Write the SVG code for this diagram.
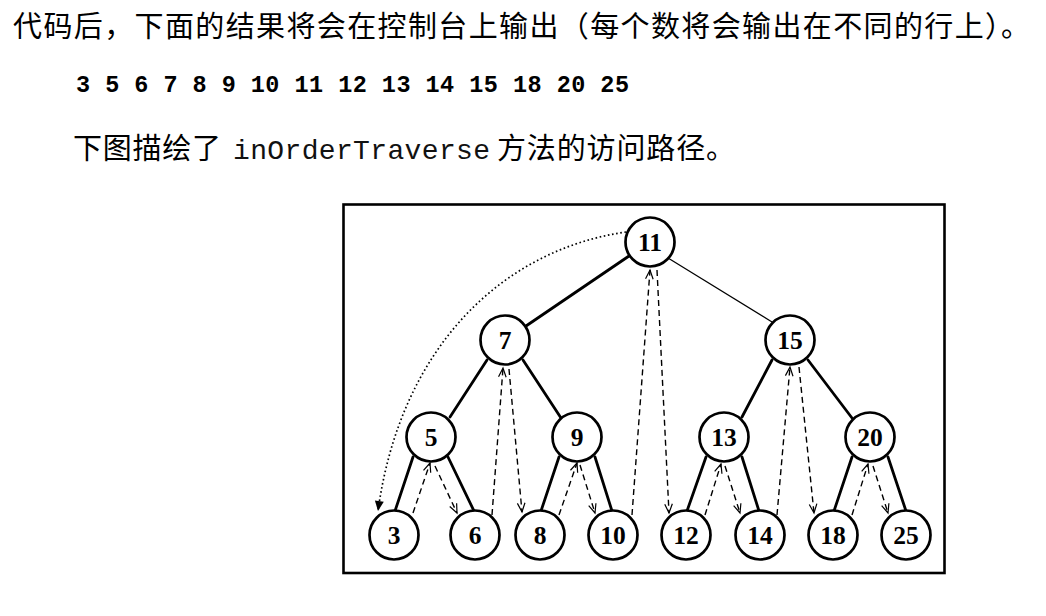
<svg xmlns="http://www.w3.org/2000/svg" width="1046" height="616" viewBox="0 0 1046 616">
<style>
.cn{font-family:"Noto Sans CJK SC","Noto Sans",sans-serif;font-size:29px;fill:#000}
.mono{font-family:"Liberation Mono","Courier New",monospace;font-size:28px;fill:#111}
.out{font-family:"Liberation Mono","DejaVu Sans Mono",monospace;font-size:23.5px;font-weight:bold;fill:#000}
.node circle{fill:#fff;stroke:#000;stroke-width:2.7}
.node text{font-family:"Liberation Serif","Times New Roman",serif;font-size:25.5px;font-weight:bold;text-anchor:middle;fill:#000}
.edge{stroke:#000;stroke-width:2.8;fill:none;stroke-linecap:round}
.thin{stroke:#000;stroke-width:1.3;fill:none}
.trav{stroke:#000;stroke-width:1.4;fill:none;stroke-dasharray:6 4;marker-end:url(#open)}
.dot{stroke:#000;stroke-width:1.7;fill:none;stroke-dasharray:1.6 2.6;marker-end:url(#solid)}
</style>
<defs>
<marker id="open" viewBox="-10 -6 12 12" refX="0" refY="0" markerWidth="12" markerHeight="12" markerUnits="userSpaceOnUse" orient="auto">
<path d="M-9,-3.8 L0,0 L-9,3.8" fill="none" stroke="#000" stroke-width="1.2"/>
</marker>
<marker id="solid" viewBox="-12 -7 14 14" refX="0" refY="0" markerWidth="14" markerHeight="14" markerUnits="userSpaceOnUse" orient="auto">
<path d="M-10,-4.5 L0,0 L-10,4.5 Z" fill="#000"/>
</marker>
</defs>
<rect width="1046" height="616" fill="#fff"/>

<g id="texts">
<text class="cn" x="13" y="36.5" textLength="1017" lengthAdjust="spacing">代码后，下面的结果将会在控制台上输出（每个数将会输出在不同的行上）。</text>
<text class="out" x="76" y="91.5" textLength="553" lengthAdjust="spacing">3 5 6 7 8 9 10 11 12 13 14 15 18 20 25</text>
<text class="cn" x="73" y="159" textLength="148" lengthAdjust="spacing">下图描绘了</text>
<text class="mono" x="233" y="158.5" textLength="257" lengthAdjust="spacing">inOrderTraverse</text>
<text class="cn" x="497" y="159" textLength="238" lengthAdjust="spacing">方法的访问路径。</text>
</g>

<rect id="frame" x="343.5" y="204.5" width="601" height="368.5" fill="none" stroke="#000" stroke-width="2.6"/>

<g id="edges">
<line class="edge" x1="629" y1="256" x2="526" y2="326"/>
<line class="thin" x1="668" y1="258" x2="772" y2="322"/>
<line class="edge" x1="487" y1="360" x2="450" y2="417"/>
<line class="edge" x1="523" y1="360" x2="561" y2="418"/>
<line class="edge" x1="772" y1="360" x2="742" y2="417"/>
<line class="edge" x1="808" y1="360" x2="852" y2="418"/>
<line class="edge" x1="413" y1="457" x2="395" y2="511"/>
<line class="edge" x1="448" y1="457" x2="474" y2="511"/>
<line class="edge" x1="559" y1="457" x2="541" y2="511"/>
<line class="edge" x1="595" y1="457" x2="612" y2="511"/>
<line class="edge" x1="706" y1="457" x2="687" y2="511"/>
<line class="edge" x1="742" y1="457" x2="759" y2="511"/>
<line class="edge" x1="852" y1="457" x2="834" y2="511"/>
<line class="edge" x1="888" y1="457" x2="906" y2="511"/>
</g>

<g id="n11" class="node"><circle cx="650" cy="242" r="24.5"/><text x="650" y="250.8">11</text></g>
<g id="n7" class="node"><circle cx="505" cy="340" r="24.5"/><text x="505" y="348.8">7</text></g>
<g id="n15" class="node"><circle cx="790" cy="340" r="24.5"/><text x="790" y="348.8">15</text></g>
<g id="n5" class="node"><circle cx="431" cy="437" r="24.5"/><text x="431" y="445.8">5</text></g>
<g id="n9" class="node"><circle cx="577" cy="437" r="24.5"/><text x="577" y="445.8">9</text></g>
<g id="n13" class="node"><circle cx="724" cy="437" r="24.5"/><text x="724" y="445.8">13</text></g>
<g id="n20" class="node"><circle cx="870" cy="437" r="24.5"/><text x="870" y="445.8">20</text></g>
<g id="n3" class="node"><circle cx="394" cy="535" r="24.5"/><text x="394" y="543.8">3</text></g>
<g id="n6" class="node"><circle cx="475" cy="535" r="24.5"/><text x="475" y="543.8">6</text></g>
<g id="n8" class="node"><circle cx="540" cy="535" r="24.5"/><text x="540" y="543.8">8</text></g>
<g id="n10" class="node"><circle cx="613" cy="535" r="24.5"/><text x="613" y="543.8">10</text></g>
<g id="n12" class="node"><circle cx="686" cy="535" r="24.5"/><text x="686" y="543.8">12</text></g>
<g id="n14" class="node"><circle cx="760" cy="535" r="24.5"/><text x="760" y="543.8">14</text></g>
<g id="n18" class="node"><circle cx="833" cy="535" r="24.5"/><text x="833" y="543.8">18</text></g>
<g id="n25" class="node"><circle cx="906" cy="535" r="24.5"/><text x="906" y="543.8">25</text></g>

<g id="traversal">
<path class="dot" d="M626,232 C500,250 400,350 378,511"/>
<line class="trav" x1="413" y1="513" x2="430" y2="463"/>
<line class="trav" x1="435" y1="466" x2="457" y2="513"/>
<line class="trav" x1="492" y1="515" x2="503" y2="368"/>
<line class="trav" x1="509" y1="369" x2="522" y2="512"/>
<line class="trav" x1="559" y1="515" x2="577" y2="463"/>
<line class="trav" x1="580" y1="465" x2="595" y2="513"/>
<line class="trav" x1="632" y1="515" x2="650" y2="270"/>
<line class="trav" x1="657" y1="270" x2="669" y2="513"/>
<line class="trav" x1="705" y1="515" x2="721" y2="464"/>
<line class="trav" x1="725" y1="466" x2="740" y2="513"/>
<line class="trav" x1="777" y1="515" x2="790" y2="367"/>
<line class="trav" x1="799" y1="367" x2="814" y2="513"/>
<line class="trav" x1="852" y1="515" x2="868" y2="464"/>
<line class="trav" x1="873" y1="466" x2="888" y2="513"/>
</g>
</svg>
